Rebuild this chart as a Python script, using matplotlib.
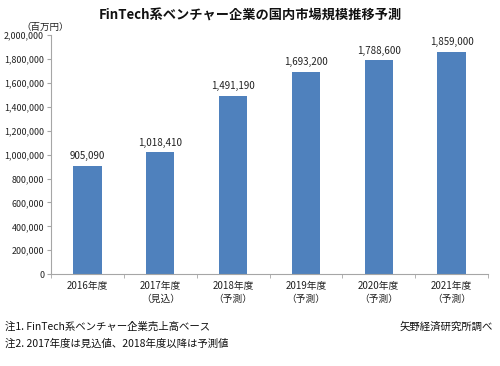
import matplotlib
matplotlib.use("Agg")
import matplotlib.pyplot as plt
from matplotlib.ticker import FuncFormatter, FixedLocator

plt.rcParams['font.family'] = ['Noto Sans CJK JP', 'DejaVu Sans']

categories = ["2016年度", "2017年度\n（見込）", "2018年度\n（予測）", "2019年度\n（予測）", "2020年度\n（予測）", "2021年度\n（予測）"]
values = [905090, 1018410, 1491190, 1693200, 1788600, 1859000]
yticks = list(range(0, 2000001, 200000))

title = "FinTech系ベンチャー企業の国内市場規模推移予測"
unit = "（百万円）"
note1 = "注1. FinTech系ベンチャー企業売上高ベース"
note2 = "注2. 2017年度は見込値、2018年度以降は予測値"
source = "矢野経済研究所調べ"

bar_color = "#4F81BD"
axis_color = "#A6A6A6"

fig = plt.figure(figsize=(5.0, 3.66), dpi=100)
ax = fig.add_axes([0.102, 0.251, 0.874, 0.653])

x = list(range(len(categories)))
ax.bar(x, values, width=0.39, color=bar_color, zorder=2)
for xi, v in zip(x, values):
    ax.text(xi, v + 40000, f"{v:,}", ha="center", va="bottom", fontsize=7, color="#222222")

ax.set_xlim(-0.5, len(categories) - 0.5)
ax.set_ylim(0, 2000000)
ax.set_yticks(yticks)
ax.yaxis.set_major_formatter(FuncFormatter(lambda v, p: f"{int(v):,}"))
ax.set_xticks(x)
ax.set_xticklabels(categories, fontsize=7, color="#222222", linespacing=1.3)
ax.tick_params(axis="y", labelsize=6.4, colors="#222222", length=3, color=axis_color, direction="out", pad=2)
ax.tick_params(axis="x", length=0, pad=5)
# category boundary ticks
ax.xaxis.set_minor_locator(FixedLocator([i - 0.5 for i in range(len(categories) + 1)]))
ax.tick_params(axis="x", which="minor", length=3, color=axis_color, direction="out")

for s in ["top", "right"]:
    ax.spines[s].set_visible(False)
ax.spines["left"].set_color(axis_color)
ax.spines["bottom"].set_color(axis_color)

fig.text(0.5, 0.958, title, ha="center", va="center", fontsize=9.5, fontweight="bold", color="#111111")
fig.text(0.09, 0.925, unit, ha="center", va="center", fontsize=6.8, color="#222222")
fig.text(0.01, 0.108, note1, ha="left", va="center", fontsize=7.5, color="#111111")
fig.text(0.01, 0.06, note2, ha="left", va="center", fontsize=7.5, color="#111111")
fig.text(0.985, 0.108, source, ha="right", va="center", fontsize=7.5, color="#111111")

fig.savefig("out.png", dpi=100)
